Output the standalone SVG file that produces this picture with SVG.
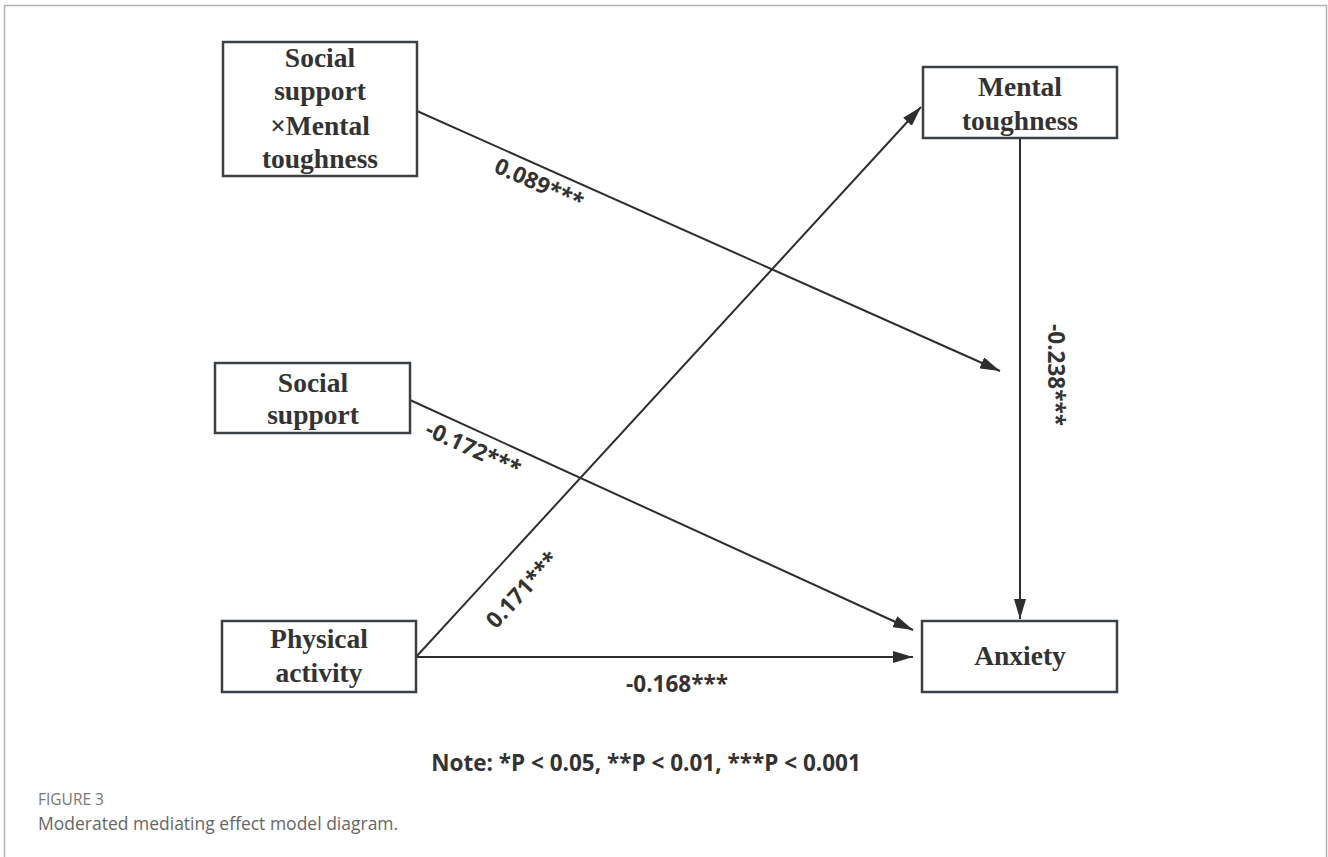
<svg xmlns="http://www.w3.org/2000/svg" width="1328" height="857" viewBox="0 0 1328 857">
<defs>
<marker id="arr" viewBox="0 0 20 12" refX="20" refY="6" markerWidth="20" markerHeight="12" markerUnits="userSpaceOnUse" orient="auto">
<path d="M0,0 L20,6 L0,12 Z" fill="#2e2e2e"/>
</marker>
<style>
.box{fill:#fff;stroke:#3b4046;stroke-width:2.5}
.nt{font-family:"Liberation Serif",serif;font-weight:bold;font-size:27.5px;fill:#333;text-anchor:middle}
.edge{stroke:#2e2e2e;stroke-width:2;fill:none}
.el{font-family:"Open Sans",sans-serif;font-weight:bold;font-size:22.5px;fill:#333;text-anchor:middle}
</style>
</defs>
<rect x="0" y="0" width="1328" height="857" fill="#fff"/>
<path d="M4.5,870 L4.5,5.5 L1326.5,5.5 L1326.5,870" fill="none" stroke="#b3b3b3" stroke-width="1.5"/>
<g id="connectors">
<line class="edge" x1="417" y1="111" x2="1000" y2="371" marker-end="url(#arr)"/>
<line class="edge" x1="1020" y1="138" x2="1020" y2="619" marker-end="url(#arr)"/>
<line class="edge" x1="410" y1="400" x2="913" y2="630" marker-end="url(#arr)"/>
<line class="edge" x1="416" y1="657" x2="921" y2="107" marker-end="url(#arr)"/>
<line class="edge" x1="416" y1="657" x2="913" y2="657" marker-end="url(#arr)"/>
<text class="el" transform="translate(536,191) rotate(24)">0.089***</text>
<text class="el" transform="translate(470,456) rotate(24.6)">-0.172***</text>
<text class="el" transform="translate(528,595) rotate(-47.4)">0.171***</text>
<text class="el" x="677" y="692">-0.168***</text>
<text class="el" transform="translate(1048,375) rotate(90)">-0.238***</text>
</g>
<g id="node-interaction">
<rect class="box" x="223" y="42" width="194" height="134"/>
<text class="nt" x="320" y="67">Social</text>
<text class="nt" x="320" y="100">support</text>
<text class="nt" x="320" y="135">×Mental</text>
<text class="nt" x="320" y="168">toughness</text>
</g>
<g id="node-mental">
<rect class="box" x="923" y="67" width="194" height="71"/>
<text class="nt" x="1020" y="96">Mental</text>
<text class="nt" x="1020" y="130">toughness</text>
</g>
<g id="node-social">
<rect class="box" x="215" y="363" width="195" height="70"/>
<text class="nt" x="313" y="392">Social</text>
<text class="nt" x="313" y="424">support</text>
</g>
<g id="node-physical">
<rect class="box" x="222" y="621" width="194" height="71"/>
<text class="nt" x="319" y="648">Physical</text>
<text class="nt" x="319" y="682">activity</text>
</g>
<g id="node-anxiety">
<rect class="box" x="922" y="621" width="195" height="71"/>
<text class="nt" x="1020" y="665">Anxiety</text>
</g>
<text x="646" y="771" font-family="'Open Sans',sans-serif" font-weight="bold" font-size="22.5" fill="#333" text-anchor="middle">Note: *P &lt; 0.05, **P &lt; 0.01, ***P &lt; 0.001</text>
<text x="38" y="805" font-family="'Open Sans',sans-serif" font-size="15.5" fill="#777">FIGURE 3</text>
<text x="38" y="830" font-family="'Open Sans',sans-serif" font-size="17.5" fill="#666">Moderated mediating effect model diagram.</text>
</svg>
